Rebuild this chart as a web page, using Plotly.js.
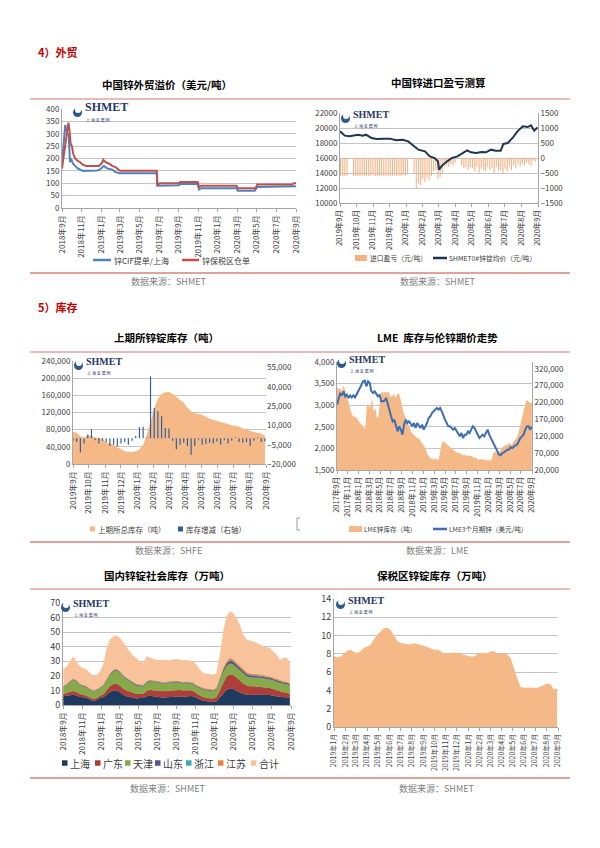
<!DOCTYPE html>
<html><head><meta charset="utf-8">
<script src="https://cdn.plot.ly/plotly-3.0.1.min.js"></script>
<style>html,body{margin:0;padding:0;background:#fff}#chart{width:600px;height:848px}</style>
</head><body><div id="chart"></div>
<script>
// ---------------- DATA ----------------
// Chart 1: 中国锌外贸溢价（美元/吨）
const c1Names = ['锌CIF提单/上海','锌保税区仓单'];
const c1CifDates = ['2018-09-01','2018-09-04','2018-09-08','2018-09-11','2018-09-14','2018-09-18','2018-09-22','2018-09-24','2018-09-26','2018-09-29','2018-10-05','2018-10-12','2018-10-20','2018-10-28','2018-11-05','2018-12-20','2018-12-28','2019-01-05','2019-01-10','2019-01-20','2019-02-05','2019-02-15','2019-03-01','2019-06-24','2019-06-26','2019-09-01','2019-09-05','2019-10-30','2019-11-03','2019-11-10','2020-02-28','2020-03-03','2020-04-25','2020-05-03','2020-08-10','2020-08-15','2020-09-01'];
const c1CifValues = [180,230,300,335,320,300,295,210,185,200,180,170,160,155,150,152,155,165,170,160,155,145,140,140,90,92,97,97,75,80,80,70,70,85,85,88,88];
const c1BondDates = ['2018-09-01','2018-09-05','2018-09-10','2018-09-16','2018-09-21','2018-09-24','2018-09-28','2018-10-02','2018-10-06','2018-10-12','2018-10-20','2018-10-28','2018-11-05','2018-11-15','2018-12-25','2019-01-03','2019-01-08','2019-01-15','2019-01-25','2019-02-05','2019-02-15','2019-03-01','2019-06-24','2019-06-26','2019-07-05','2019-09-01','2019-09-05','2019-10-30','2019-11-03','2019-11-10','2020-02-28','2020-03-03','2020-04-28','2020-05-03','2020-08-20','2020-08-25','2020-09-01'];
const c1BondValues = [160,200,240,300,345,320,260,250,220,200,190,185,175,170,170,180,195,185,180,170,165,150,150,95,100,100,105,105,85,90,90,80,80,95,95,100,100];
const c1TickVals = ['2018-09-01','2018-11-01','2019-01-01','2019-03-01','2019-05-01','2019-07-01','2019-09-01','2019-11-01','2020-01-01','2020-03-01','2020-05-01','2020-07-01','2020-09-01'];
const c1TickText = ['2018年9月','2018年11月','2019年1月','2019年3月','2019年5月','2019年7月','2019年9月','2019年11月','2020年1月','2020年3月','2020年5月','2020年7月','2020年9月'];

// Chart 2: 中国锌进口盈亏测算 (bars every 4 days from 2019-09-02)
const c2Names = ['进口盈亏（元/吨）','SHMET0#锌锭均价（元/吨）'];
const c2ProfitValues = [-600,-620,-600,-580,0,0,-600,-590,-610,-600,-580,-600,-620,-600,-590,-560,-600,-610,-600,-580,-600,-590,-600,-610,-600,-580,-600,-590,-600,-560,-580,-560,0,0,-500,-1000,-850,-900,-700,-800,-650,-750,-600,-450,-400,-700,-650,-500,-300,-250,-300,-200,-250,-150,0,0,-250,-350,-300,-400,-300,-350,-450,-300,-500,-350,-400,-450,-300,-400,-350,-500,-300,-450,-400,-500,-350,-450,-300,-400,-250,-350,-200,-300,-200,-250,-150,-200,-250,-100,-120,-50];
const c2PriceDates = ['2019-09-01','2019-09-10','2019-09-19','2019-09-28','2019-10-04','2019-10-13','2019-10-19','2019-10-29','2019-11-08','2019-11-20','2019-12-02','2019-12-14','2019-12-26','2020-01-05','2020-01-14','2020-01-24','2020-02-05','2020-02-14','2020-02-23','2020-02-29','2020-03-02','2020-03-08','2020-03-17','2020-03-26','2020-04-05','2020-04-14','2020-04-23','2020-04-30','2020-05-10','2020-05-19','2020-05-28','2020-06-06','2020-06-15','2020-06-24','2020-06-29','2020-07-07','2020-07-16','2020-07-25','2020-08-04','2020-08-13','2020-08-19','2020-08-25','2020-08-31'];
const c2PriceValues = [19560,18980,18890,18980,19110,18980,19110,18670,18530,18580,18580,18360,18440,18220,17640,17110,16890,16220,16000,15560,14440,15020,15560,16000,16220,16580,17020,16760,16670,16800,16760,17110,16980,16980,17870,18000,18670,19560,20220,20130,20360,19640,20090];
const c2TickVals = ['2019-09-01','2019-10-01','2019-11-01','2019-12-01','2020-01-01','2020-02-01','2020-03-01','2020-04-01','2020-05-01','2020-06-01','2020-07-01','2020-08-01','2020-09-01'];
const c2TickText = ['2019年9月','2019年10月','2019年11月','2019年12月','2020年1月','2020年2月','2020年3月','2020年4月','2020年5月','2020年6月','2020年7月','2020年8月','2020年9月'];

// Chart 3: 上期所锌锭库存（吨）, weekly from 2019-09-01
const c3Names = ['上期所总库存（吨）','库存增减（右轴）'];
const c3StockValues = [74600,73000,65000,61000,67000,66000,62000,61000,57500,51300,48000,45000,39000,33500,30000,28200,28000,30000,34000,44000,68000,98000,130000,152000,163000,167000,167500,163000,156000,151000,143000,131000,123000,118000,117000,115000,110000,105500,103000,100500,98000,96000,92000,90500,89000,87000,83000,80000,77000,74600,73000,71000,66000];
const c3ChangeValues = [-2000,-3000,-11000,-4000,3000,7000,-1500,-4000,-2000,-3000,-6000,-5000,-6500,-4000,-3000,-5000,-2000,2000,8500,9000,500,48000,23500,21000,17000,8000,7500,-2000,-8500,-5000,-3500,-6000,-13000,-6000,-1000,-5000,-4500,-3500,-4000,-2500,-5000,-1500,-4000,-2000,500,-3000,-3500,-3000,-6000,-2000,500,-3000,-2500];

// Chart 4: LME 库存与伦锌期价走势
const c4Names = ['LME锌库存（吨）','LME3个月期锌（美元/吨）'];
const c4StockValues = [267500,257600,262600,252700,270400,252700,233000,223100,203400,183700,
178700,175800,173800,164000,159000,154100,144200,144200,213300,213300,
203400,233000,193500,203400,173800,178700,242800,252700,247800,252700,
247800,252700,237900,237900,244800,233000,242800,247800,233000,213300,
188600,178700,164000,149200,139300,129400,124500,119600,114700,114700,
104800,99900,93000,85100,70300,60400,55500,53500,50600,55500,
50600,50600,75200,99900,104800,99900,94900,90000,85100,83100,
80100,75200,70300,72300,67300,65400,63400,65400,60400,63400,
60400,60400,55500,57500,53500,50600,52500,50600,50600,50600,
47600,50600,47600,53500,70300,75200,70300,73200,75200,85100,
90000,93000,93000,99900,96900,93000,104800,109700,114700,129400,
154100,168900,193500,213300,228100,223100,218200,218200];
const c4PriceValues = [3012,3128,3282,3228,3321,3205,3244,3167,3228,3182,
3228,3182,3244,3321,3398,3475,3552,3568,3437,3552,
3514,3321,3282,3321,3244,3205,3244,3090,3090,3105,
3167,3051,2897,2742,2626,2665,2549,2395,2511,2434,
2318,2549,2665,2588,2626,2549,2511,2588,2472,2588,
2511,2472,2549,2434,2511,2588,2704,2742,2820,2858,
2897,2935,2897,2935,2858,2742,2665,2588,2511,2511,
2472,2434,2472,2395,2356,2279,2356,2241,2318,2318,
2395,2356,2434,2511,2472,2395,2318,2241,2279,2318,
2279,2356,2434,2318,2241,2164,2048,1971,1932,1855,
1840,1894,1909,1932,1971,1971,2025,2009,2048,2071,
2086,2164,2241,2279,2318,2434,2511,2511,2434,2511];
const c4TickVals = ['2017-09-01','2017-11-01','2018-01-01','2018-03-01','2018-05-01','2018-07-01','2018-09-01','2018-11-01','2019-01-01','2019-03-01','2019-05-01','2019-07-01','2019-09-01','2019-11-01','2020-01-01','2020-03-01','2020-05-01','2020-07-01','2020-09-01'];
const c4TickText = ['2017年9月','2017年11月','2018年1月','2018年3月','2018年5月','2018年7月','2018年9月','2018年11月','2019年1月','2019年3月','2019年5月','2019年7月','2019年9月','2019年11月','2020年1月','2020年3月','2020年5月','2020年7月','2020年9月'];

// Chart 5: 国内锌锭社会库存（万吨）
const c5Names = ['上海','广东','天津','山东','浙江','江苏','合计'];
const c5Total = [24.5,26.5,30,33.4,29.5,26.5,25.4,24.3,22,19.7,20.4,23,28,39,45,47,47.8,46,43,39.5,36.5,34,32,30,29,33.5,32.7,31.6,31.1,30.7,30.9,31.1,30.7,31.1,31.8,31.1,30.7,30.9,30.4,30,27.7,24.3,22,21.3,21.3,20.8,22,34.6,50.6,60.9,64.3,63.2,59.7,55.1,48.3,44.9,44.2,43.7,42.6,41.4,40.3,39.6,39.1,36.8,34.6,31.1,32.3,32.7,29];
const c5Shanghai = [6.0,6.4,6.8,7.0,6.6,5.5,5.3,4.8,3.7,3.0,3.4,4.8,5.3,7.0,8.9,9.8,9.8,8.9,7.0,6.0,5.3,4.8,4.4,4.8,4.8,6.0,6.4,6.0,5.5,5.5,5.0,5.3,5.5,5.8,6.0,5.8,5.5,6.0,6.2,6.0,4.8,3.7,3.0,2.5,2.5,2.0,2.5,5.3,8.2,10.5,11.2,11.0,9.8,8.7,7.6,7.1,6.8,7.1,7.1,7.1,7.1,6.8,6.8,6.4,6.0,5.5,5.3,5.3,4.8];
const c5Guangdong = [1.5,1.8,2.2,2.6,2.4,2.0,1.8,1.6,1.4,1.3,1.4,1.6,2.0,3.0,4.0,4.6,4.8,4.5,4.2,4.0,3.8,3.5,3.2,3.0,2.8,3.6,4.0,4.2,4.4,4.5,4.5,4.4,4.4,4.5,4.6,4.5,4.4,4.2,4.0,3.6,3.2,2.8,2.5,2.3,2.2,2.4,3.0,5.0,7.5,9.0,9.8,9.6,9.0,8.2,7.2,6.5,6.0,5.8,5.6,5.5,5.3,5.0,4.8,4.5,4.2,3.8,3.5,3.2,3.0];
const c5Tianjin = [4.5,5.0,6.5,7.5,7.0,6.0,5.5,5.5,5.0,4.8,5.0,5.2,5.5,6.5,7.5,8.5,9.0,8.5,8.0,7.5,7.0,6.0,5.5,5.0,5.0,5.5,5.8,5.5,5.2,5.0,5.0,5.0,5.2,5.0,5.0,4.8,4.8,4.8,4.5,4.5,4.5,4.8,5.0,5.2,5.2,5.0,5.0,6.0,6.8,7.2,7.5,7.2,7.0,6.8,6.5,6.2,6.2,6.0,6.0,6.0,6.0,6.0,6.0,6.0,5.8,5.8,5.8,5.8,5.5];
const c5Shandong = [0.4,0.4,0.4,0.4,0.4,0.4,0.4,0.4,0.4,0.4,0.4,0.4,0.4,0.6,0.6,0.6,0.6,0.6,0.6,0.6,0.6,0.6,0.6,0.6,0.6,0.5,0.5,0.5,0.5,0.5,0.5,0.5,0.5,0.5,0.5,0.5,0.5,0.5,0.5,0.5,0.5,0.5,0.5,0.5,0.5,0.5,0.5,1.2,1.6,1.8,2.0,2.0,1.9,1.8,1.6,1.5,1.4,1.3,1.3,1.2,1.2,1.1,1.1,1.0,1.0,1.0,0.9,0.9,0.8];
const c5Zhejiang = [0.3,0.3,0.3,0.3,0.3,0.3,0.3,0.3,0.3,0.3,0.3,0.3,0.3,0.3,0.3,0.3,0.3,0.3,0.3,0.3,0.3,0.3,0.3,0.3,0.3,0.3,0.3,0.3,0.3,0.3,0.3,0.3,0.3,0.3,0.3,0.3,0.3,0.3,0.3,0.3,0.3,0.3,0.3,0.3,0.3,0.3,0.3,0.4,0.5,0.5,0.5,0.5,0.5,0.4,0.4,0.4,0.4,0.4,0.4,0.4,0.4,0.3,0.3,0.3,0.3,0.3,0.3,0.3,0.3];
const c5Jiangsu = [0.3,0.3,0.3,0.3,0.3,0.3,0.3,0.3,0.3,0.3,0.3,0.3,0.3,0.3,0.3,0.3,0.3,0.3,0.3,0.3,0.3,0.3,0.3,0.3,0.3,0.3,0.3,0.3,0.3,0.3,0.3,0.3,0.3,0.3,0.3,0.3,0.3,0.3,0.3,0.3,0.3,0.3,0.3,0.3,0.3,0.3,0.3,0.5,0.7,0.8,0.9,0.9,0.8,0.8,0.7,0.7,0.7,0.6,0.6,0.6,0.6,0.5,0.5,0.5,0.5,0.5,0.5,0.5,0.5];

// Chart 6: 保税区锌锭库存（万吨）
const c6Values = [7.8,7.6,7.7,8.0,8.35,8.45,8.2,8.1,8.3,8.65,8.85,9.0,9.6,10.1,10.45,10.8,10.85,10.6,10.0,9.4,9.2,9.1,9.05,9.05,9.15,9.1,9.0,8.85,8.75,8.6,8.45,8.45,8.3,8.05,8.0,8.1,8.15,8.1,8.0,7.95,7.85,7.7,7.7,7.95,8.1,8.1,8.1,8.25,8.3,8.05,8.0,8.05,7.95,7.6,6.4,5.4,4.4,4.3,4.3,4.3,4.35,4.3,4.4,4.6,4.75,4.7,4.1,4.2];
const c6TickVals = ['2019-01-01','2019-02-01','2019-03-01','2019-04-01','2019-05-01','2019-06-01','2019-07-01','2019-08-01','2019-09-01','2019-10-01','2019-11-01','2019-12-01','2020-01-01','2020-02-01','2020-03-01','2020-04-01','2020-05-01','2020-06-01','2020-07-01','2020-08-01','2020-09-01'];
const c6TickText = ['2019年1月','2019年2月','2019年3月','2019年4月','2019年5月','2019年6月','2019年7月','2019年8月','2019年9月','2019年10月','2019年11月','2019年12月','2020年1月','2020年2月','2020年3月','2020年4月','2020年5月','2020年6月','2020年7月','2020年8月','2020年9月'];

// ---------------- STYLE / LAYOUT ----------------
const W = 600, H = 848, DAY = 86400000;
const px = v => v / W;
const py = v => 1 - v / H;
const FONT = '"Noto Sans CJK SC", "Noto Sans", sans-serif';
const AX = '#a6a6a6', GRID = '#c4c4c4', TXT = '#404040';
const COL = {cif:'#4f81bd', bond:'#c0504d', profit:'#f4b183', avg:'#1f3550', area:'#f5b887', chg:'#2f5f98', lme:'#3d6db3',
  c5:['#1f3a5f','#ad3f3a','#86a94a','#5d5488','#3fa7b5','#e2853c','#f8c39b']};

function xAx(l, r, anchor, range, tv, tt, fs) {
  return {type:'date', domain:[px(l), px(r)], anchor, range, tickmode:'array', tickvals:tv, ticktext:tt,
    tickangle:-90, tickfont:{family:FONT, size:fs, color:TXT}, showgrid:false, zeroline:false,
    showline:true, linecolor:AX, linewidth:1, ticks:'outside', ticklen:3, tickcolor:AX, fixedrange:true};
}
function yAx(top, bot, anchor, range, dtick, extra) {
  return Object.assign({domain:[py(bot), py(top)], anchor, range, dtick, tickmode:'linear', tick0:range[0],
    tickfont:{family:FONT, size:8, color:TXT}, showgrid:true, gridcolor:GRID, gridwidth:1, zeroline:false,
    showline:true, linecolor:AX, ticks:'', fixedrange:true}, extra || {});
}

const traces = [
  {type:'scatter', mode:'lines', x:c1CifDates, y:c1CifValues, name:c1Names[0], line:{color:COL.cif, width:2}, xaxis:'x', yaxis:'y'},
  {type:'scatter', mode:'lines', x:c1BondDates, y:c1BondValues, name:c1Names[1], line:{color:COL.bond, width:2}, xaxis:'x', yaxis:'y'},

  {type:'bar', x0:'2019-09-02', dx:4*DAY, y:c2ProfitValues, width:2*DAY, name:c2Names[0], marker:{color:COL.profit}, xaxis:'x2', yaxis:'y2'},
  {type:'scatter', mode:'lines', x:c2PriceDates, y:c2PriceValues, name:c2Names[1], line:{color:COL.avg, width:2}, xaxis:'x2', yaxis:'y7'},

  {type:'scatter', mode:'lines', x0:'2019-09-01', dx:7*DAY, y:c3StockValues, name:c3Names[0], fill:'tozeroy', fillcolor:COL.area, line:{width:0, color:COL.area}, xaxis:'x3', yaxis:'y3'},
  {type:'bar', x0:'2019-09-01', dx:7*DAY, y:c3ChangeValues, width:2.2*DAY, name:c3Names[1], marker:{color:COL.chg}, xaxis:'x3', yaxis:'y8'},

  {type:'scatter', mode:'lines', x0:'2017-09-01', dx:9.36*DAY, y:c4StockValues, name:c4Names[0], fill:'tozeroy', fillcolor:COL.area, line:{width:0, color:COL.area}, xaxis:'x4', yaxis:'y4'},
  {type:'scatter', mode:'lines', x0:'2017-09-01', dx:9.2*DAY, y:c4PriceValues, name:c4Names[1], line:{color:COL.lme, width:2}, xaxis:'x4', yaxis:'y9'},

  {type:'scatter', mode:'lines', x0:'2018-09-02', dx:10.68*DAY, y:c5Total, name:c5Names[6], fill:'tozeroy', fillcolor:COL.c5[6], line:{width:0, color:COL.c5[6]}, xaxis:'x5', yaxis:'y5'},
  {type:'scatter', mode:'lines', x0:'2018-09-02', dx:10.68*DAY, y:c5Shanghai, name:c5Names[0], stackgroup:'c5', fillcolor:COL.c5[0], line:{width:0, color:COL.c5[0]}, xaxis:'x5', yaxis:'y5'},
  {type:'scatter', mode:'lines', x0:'2018-09-02', dx:10.68*DAY, y:c5Guangdong, name:c5Names[1], stackgroup:'c5', fillcolor:COL.c5[1], line:{width:0, color:COL.c5[1]}, xaxis:'x5', yaxis:'y5'},
  {type:'scatter', mode:'lines', x0:'2018-09-02', dx:10.68*DAY, y:c5Tianjin, name:c5Names[2], stackgroup:'c5', fillcolor:COL.c5[2], line:{width:0, color:COL.c5[2]}, xaxis:'x5', yaxis:'y5'},
  {type:'scatter', mode:'lines', x0:'2018-09-02', dx:10.68*DAY, y:c5Shandong, name:c5Names[3], stackgroup:'c5', fillcolor:COL.c5[3], line:{width:0, color:COL.c5[3]}, xaxis:'x5', yaxis:'y5'},
  {type:'scatter', mode:'lines', x0:'2018-09-02', dx:10.68*DAY, y:c5Zhejiang, name:c5Names[4], stackgroup:'c5', fillcolor:COL.c5[4], line:{width:0, color:COL.c5[4]}, xaxis:'x5', yaxis:'y5'},
  {type:'scatter', mode:'lines', x0:'2018-09-02', dx:10.68*DAY, y:c5Jiangsu, name:c5Names[5], stackgroup:'c5', fillcolor:COL.c5[5], line:{width:0, color:COL.c5[5]}, xaxis:'x5', yaxis:'y5'},

  {type:'scatter', mode:'lines', x0:'2019-01-01', dx:9.05*DAY, y:c6Values, name:'保税区锌锭库存', fill:'tozeroy', fillcolor:COL.area, line:{width:0, color:COL.area}, xaxis:'x6', yaxis:'y6'}
];

function ann(text, x, y, size, color, opts) {
  return Object.assign({text, x:px(x), y:py(y), xref:'paper', yref:'paper', showarrow:false,
    xanchor:'center', yanchor:'middle', font:{family:FONT, size, color}}, opts || {});
}
const titleC = '#000000', srcC = '#7f7f7f';
const annotations = [
  ann('<b>4）外贸</b>', 36, 52, 11, '#c00000', {xanchor:'left'}),
  ann('<b>5）库存</b>', 36, 307, 11, '#c00000', {xanchor:'left'}),
  ann('<b>中国锌外贸溢价（美元/吨）</b>', 167, 84, 10.5, titleC),
  ann('<b>中国锌进口盈亏测算</b>', 438, 83, 10.5, titleC),
  ann('<b>上期所锌锭库存（吨）</b>', 166, 337, 10.5, titleC),
  ann('<b>LME  库存与伦锌期价走势</b>', 437, 337, 10.5, titleC),
  ann('<b>国内锌锭社会库存（万吨）</b>', 167, 575, 10.5, titleC),
  ann('<b>保税区锌锭库存（万吨）</b>', 435, 575, 10.5, titleC),
  ann('数据来源：SHMET', 169, 281, 9, srcC),
  ann('数据来源：SHMET', 438, 281, 9, srcC),
  ann('数据来源：SHFE', 168, 550, 9, srcC),
  ann('数据来源：LME', 437, 550, 9, srcC),
  ann('数据来源：SHMET', 168, 788, 9, srcC),
  ann('数据来源：SHMET', 437, 788, 9, srcC)
];
const shapes = [];

// legends drawn as small keys + text
function keyLine(x0, x1, y, color) {
  shapes.push({type:'line', xref:'paper', yref:'paper', x0:px(x0), x1:px(x1), y0:py(y), y1:py(y), line:{color, width:2.5}});
}
function keyRect(x0, x1, y, h, color) {
  shapes.push({type:'rect', xref:'paper', yref:'paper', x0:px(x0), x1:px(x1), y0:py(y + h/2), y1:py(y - h/2), fillcolor:color, line:{width:0}});
}
function keyText(text, x, y, size) {
  annotations.push(ann(text, x, y, size, TXT, {xanchor:'left'}));
}
// chart 1
keyLine(93, 111, 260, COL.cif);  keyText(c1Names[0], 112, 260, 8);
keyLine(182, 199, 260, COL.bond); keyText(c1Names[1], 200, 260, 8);
// chart 2
keyRect(355, 367, 258, 6, COL.profit); keyText(c2Names[0], 368, 258, 6.8);
keyLine(433, 447, 258, COL.avg); keyText(c2Names[1], 447, 258, 6.8);
// chart 3
keyRect(90, 95, 529, 5, COL.area); keyText(c3Names[0], 96, 529, 7.5);
keyRect(178, 183, 529, 5, COL.chg); keyText(c3Names[1], 184, 529, 7.5);
// chart 4
keyRect(349, 362, 529, 6, COL.area); keyText(c4Names[0], 362, 529, 6.6);
keyLine(433, 447, 529, COL.lme); keyText(c4Names[1], 447, 529, 6.6);
// chart 5
const c5KeyX = [62, 95, 125, 155, 186, 218, 251];
c5KeyX.forEach((x, i) => { keyRect(x, x + 5.5, 763, 5.5, COL.c5[i]); keyText(c5Names[i], x + 6, 763, 10); });

// SHMET logos
const logos = [[84,111,12],[352,117,10],[85,364,10],[348,362,10],[72,606,10],[347,603,10]];
logos.forEach(([x,y,s]) => {
  annotations.push({text:'<b>SHMET</b>', x:px(x), y:py(y + 4), xref:'paper', yref:'paper', showarrow:false, xanchor:'left', yanchor:'bottom', borderpad:0, font:{family:'"Liberation Serif", "DejaVu Serif", serif', size:s, color:'#1f3864'}});
  annotations.push({text:'上 海 金 属 网', x:px(x + 1), y:py(y + 5), xref:'paper', yref:'paper', showarrow:false, xanchor:'left', yanchor:'top', borderpad:0, font:{family:FONT, size:4, color:'#1f3864'}});
  shapes.push({type:'circle', xref:'paper', yref:'paper', x0:px(x-11), x1:px(x-2), y0:py(y+6), y1:py(y-3), fillcolor:'#2d5a8a', line:{width:0}, layer:'above'});
  shapes.push({type:'circle', xref:'paper', yref:'paper', x0:px(x-9), x1:px(x-3), y0:py(y+2), y1:py(y-4), fillcolor:'#ffffff', line:{width:0}, layer:'above'});
});
// pink divider lines
[[99,1.5],[273,2],[352,1.5],[542,2],[589,1.5],[778,2]].forEach(([y,w]) => {
  shapes.push({type:'line', xref:'paper', yref:'paper', x0:px(30), x1:px(570), y0:py(y), y1:py(y), line:{color:'#dca3a1', width:w}});
});
// small bracket mark
shapes.push({type:'path', xref:'paper', yref:'paper', path:`M ${px(300)} ${py(518)} L ${px(297)} ${py(518)} L ${px(297)} ${py(530)} L ${px(300)} ${py(530)}`, line:{color:'#9a9a9a', width:1}});

const layout = {
  width:W, height:H, margin:{l:0, r:0, t:0, b:0}, paper_bgcolor:'#ffffff', plot_bgcolor:'rgba(0,0,0,0)',
  font:{family:FONT, size:9, color:TXT}, showlegend:false, barmode:'overlay', hovermode:false,
  xaxis: xAx(62, 296, 'y', ['2018-09-01','2020-09-01'], c1TickVals, c1TickText, 8),
  yaxis: yAx(109, 208, 'x', [0, 400], 50),
  xaxis2: xAx(340, 538, 'y2', ['2019-09-01','2020-09-01'], c2TickVals, c2TickText, 7.5),
  yaxis2: yAx(113, 203, 'x2', [-1500, 1500], 500, {side:'right', showgrid:false, tickformat:'d'}),
  yaxis7: yAx(113, 203, 'x2', [10000, 22000], 2000, {side:'left', overlaying:'y2', tickformat:'d'}),
  xaxis3: xAx(73, 266, 'y3', ['2019-09-01','2020-09-01'], c2TickVals, c2TickText, 8),
  yaxis3: yAx(361, 464, 'x3', [0, 240000], 40000, {tickformat:','}),
  yaxis8: yAx(361, 464, 'x3', [-20000, 60000], 15000, {side:'right', overlaying:'y3', showgrid:false, showline:false, tickformat:','}),
  xaxis4: xAx(337, 532, 'y4', ['2017-09-01','2020-09-01'], c4TickVals, c4TickText, 7.5),
  yaxis4: yAx(362, 470, 'x4', [20000, 340000], 50000, {side:'right', showgrid:false, tickformat:','}),
  yaxis9: yAx(362, 470, 'x4', [1500, 4000], 500, {side:'left', overlaying:'y4', tickformat:','}),
  xaxis5: xAx(63, 291, 'y5', ['2018-09-01','2020-09-01'], c1TickVals, c1TickText, 8),
  yaxis5: yAx(603, 705, 'x5', [0, 70], 10, {tickfont:{family:FONT, size:9, color:TXT}}),
  xaxis6: xAx(334, 558, 'y6', ['2019-01-01','2020-09-01'], c6TickVals, c6TickText, 7),
  yaxis6: yAx(599, 727, 'x6', [0, 14], 2, {tickfont:{family:FONT, size:9, color:TXT}}),
  annotations, shapes
};

Plotly.newPlot('chart', traces, layout, {staticPlot:true, displayModeBar:false});
</script></body></html>
